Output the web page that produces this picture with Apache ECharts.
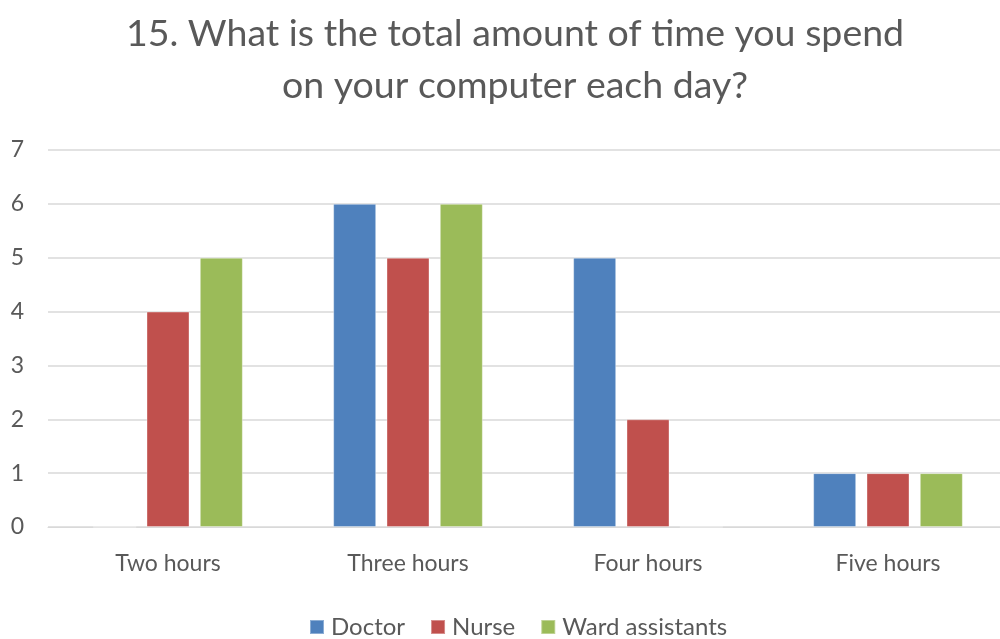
<!DOCTYPE html>
<html>
<head>
<meta charset="utf-8">
<script src="https://cdn.jsdelivr.net/npm/echarts@6/dist/echarts.min.js"></script>
<style>
  html, body { margin: 0; padding: 0; background: #fff; }
  #chart { width: 1000px; height: 639px; }
</style>
</head>
<body>
<div id="chart"></div>
<script>
// Daily computer time by staff group
const categories = ['Two hours', 'Three hours', 'Four hours', 'Five hours'];
const doctor = [0, 6, 5, 1];
const nurse = [4, 5, 2, 1];
const wardAssistants = [5, 6, 0, 1];
const yTicks = [0, 1, 2, 3, 4, 5, 6, 7];

const font = 'Lato, "Open Sans", sans-serif';
const textColor = '#595959';

const chart = echarts.init(document.getElementById('chart'));

function barSeries(name, data, color) {
  return {
    name: name,
    type: 'bar',
    data: data,
    barWidth: 43,
    barGap: '24%',
    itemStyle: { color: color, borderColor: 'rgba(255,255,255,0.35)', borderWidth: 1 }
  };
}

chart.setOption({
  animation: false,
  title: {
    text: '15. What is the total amount of time you spend\non your computer each day?',
    left: 510,
    textAlign: 'center',
    top: 3,
    textStyle: { fontFamily: font, fontSize: 37.5, fontWeight: 'normal', color: textColor, lineHeight: 52 }
  },
  legend: {
    bottom: -5,
    left: 304,
    itemWidth: 14,
    itemHeight: 14,
    itemGap: 25,
    icon: 'rect',
    textStyle: { fontFamily: font, fontSize: 24, color: textColor, padding: [0, 0, 0, 2] }
  },
  grid: { left: 48, width: 960, top: 150, bottom: 112, outerBoundsMode: 'none' },
  xAxis: {
    type: 'category',
    data: categories,
    axisLine: { lineStyle: { color: '#d9d9d9', width: 1 } },
    axisTick: { show: false },
    axisLabel: { fontFamily: font, fontSize: 23, color: textColor, margin: 25 }
  },
  yAxis: {
    type: 'value',
    min: yTicks[0],
    max: yTicks[yTicks.length - 1],
    interval: 1,
    axisLine: { show: false },
    axisTick: { show: false },
    axisLabel: { fontFamily: font, fontSize: 23, color: textColor, margin: 24 },
    splitLine: { lineStyle: { color: '#d9d9d9', width: 1.5 } }
  },
  series: [
    barSeries('Doctor', doctor, '#4F81BD'),
    barSeries('Nurse', nurse, '#C0504D'),
    barSeries('Ward assistants', wardAssistants, '#9BBB59')
  ]
});
</script>
</body>
</html>
